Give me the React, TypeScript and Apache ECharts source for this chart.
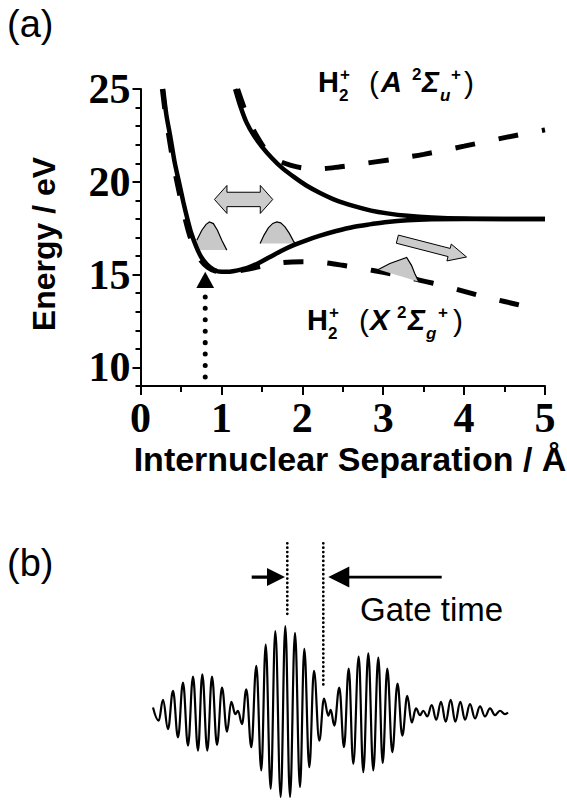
import React, { useEffect, useRef } from 'react';
import * as echarts from 'echarts';

// ---------- Panel (a): potential energy curves (R in Å, E in eV) ----------
const xTickValues = [0, 1, 2, 3, 4, 5];
const yMajorTicks = [10, 15, 20, 25];

const groundSolid: number[][] = [
  [0.28, 25], [0.32, 23.6], [0.37, 22.4], [0.42, 21.1], [0.47, 20.1], [0.53, 18.9], [0.58, 18.0],
  [0.63, 17.2], [0.69, 16.5], [0.75, 15.95], [0.82, 15.55], [0.9, 15.28], [1.0, 15.15], [1.1, 15.16],
  [1.2, 15.23], [1.32, 15.36], [1.45, 15.6], [1.6, 15.95], [1.75, 16.3], [1.9, 16.6], [2.05, 16.85],
  [2.22, 17.1], [2.42, 17.35], [2.63, 17.57], [2.85, 17.72], [3.05, 17.84], [3.3, 17.93], [3.6, 17.98],
  [4.0, 18.0], [4.5, 18.0], [5.0, 18.0],
];
const excitedSolid: number[][] = [
  [1.17, 25], [1.24, 24.0], [1.31, 23.2], [1.4, 22.5], [1.5, 21.9], [1.62, 21.3], [1.75, 20.75],
  [1.9, 20.25], [2.05, 19.8], [2.22, 19.4], [2.42, 19.0], [2.63, 18.7], [2.85, 18.45], [3.05, 18.3],
  [3.3, 18.17], [3.6, 18.08], [4.0, 18.02], [4.5, 18.0], [5.0, 18.0],
];
const upperDashed: number[][] = [
  [1.2, 25], [1.28, 24.0], [1.36, 23.1], [1.46, 22.3], [1.57, 21.6], [1.7, 21.15], [1.85, 20.9],
  [2.0, 20.75], [2.2, 20.7], [2.45, 20.8], [2.75, 20.98], [3.1, 21.2], [3.5, 21.48], [4.0, 21.92],
  [4.5, 22.38], [5.0, 22.8],
];
const lowerDashed: number[][] = [
  [0.27, 25], [0.31, 23.6], [0.36, 22.2], [0.41, 20.9], [0.46, 19.8], [0.52, 18.6], [0.57, 17.7],
  [0.62, 16.95], [0.68, 16.3], [0.75, 15.75], [0.83, 15.4], [0.92, 15.2], [1.02, 15.12], [1.15, 15.15],
  [1.3, 15.27], [1.5, 15.45], [1.75, 15.65], [2.0, 15.7], [2.25, 15.65], [2.5, 15.5], [2.75, 15.32],
  [3.0, 15.12], [3.25, 14.92], [3.5, 14.65], [3.75, 14.4], [4.0, 14.1], [4.25, 13.8], [4.5, 13.55],
  [4.8, 13.25],
];

// wave packets (outline points, R / E)
const packetLeft: number[][] = [
  [0.696, 16.32], [0.696, 16.85], [0.758, 17.39], [0.811, 17.71], [0.852, 17.84], [0.901, 17.75],
  [0.951, 17.39], [1.005, 16.85], [1.067, 16.32],
];
const packetMid: number[][] = [
  [1.478, 16.68], [1.527, 17.13], [1.58, 17.52], [1.635, 17.76], [1.684, 17.84], [1.733, 17.79],
  [1.786, 17.57], [1.84, 17.22], [1.889, 16.82], [1.91, 16.68],
];
const packetRight: number[][] = [
  [2.94, 15.28], [3.083, 15.6], [3.29, 15.92], [3.35, 15.5], [3.39, 15.06], [3.44, 14.61],
];

// arrows (start, end) in R / E
const doubleArrow: number[][] = [[0.914, 19.05], [1.635, 19.05]];
const tiltArrow: number[][] = [[3.175, 16.91], [4.03, 15.95]];
const ionTriangle: number[][] = [[0.8, 15.15], [0.69, 14.28], [0.91, 14.28]];
const ionDots: number[][] = [[0.8, 13.8], [0.8, 9.48]];

// ---------- Panel (b): laser field (time / amplitude, arb. units) ----------
const waveTime = [
  153, 158.7, 163, 168, 173, 178, 183, 188, 193, 198, 202.3, 207.3, 212, 217, 222, 227, 231.3, 235.3,
  238, 242, 246.3, 251.3, 256.3, 261.3, 265.7, 270.7, 275.3, 280.7, 285.3, 290, 295, 300, 304.3, 309.3,
  314, 319.3, 324, 328.3, 330.7, 334.3, 339.3, 344, 348.7, 353.3, 358.7, 363.3, 368.3, 373.3, 378.3,
  382.7, 387.3, 392.3, 397.5, 402.3, 407.3, 411.7, 416, 420, 423.3, 427.3, 431.7, 436.3, 441, 445.7,
  450.7, 455.3, 460.3, 465, 470, 475, 480, 485, 490, 495, 500, 505, 508,
];
const waveAmp = [
  5, -8.3, 12.7, -16.7, 21.7, -25, 30, -33.3, 36, -38.3, 38.3, -38.3, 36, -32.7, 25, -19.3, 10.7, -1.7,
  1.7, -11.7, 23.3, -35, 46.7, -58.3, 68.3, -76.7, 81.7, -85, 86.7, -85, 80, -75, 64, -55, 41.7, -28.3,
  14, -3.3, 2.7, -13.3, 25, -35, 44, -51.7, 56, -60, 59.3, -58.3, 55, -50.7, 44, -40, 29, -23.3, 16.7,
  -10, 4, -2.7, 1.7, -4, 7.3, -7.3, 10.7, -9.3, 12.7, -9.3, 10.7, -7.3, 8.3, -6, 6, -4, 4, -2.7, 1.7,
  -1.7, 0,
];
const gateLineA: number[][] = [[287.3, 170], [287.3, 98]];
const gateLineB: number[][] = [[323.3, 170], [323.3, 27]];
const gateArrowLeft: number[][] = [[251.7, 136], [285, 136]];
const gateArrowRight: number[][] = [[441.7, 136], [328.3, 136]];

// ---------- helpers ----------
function arrowPoly(p0: number[], p1: number[], shaftHalf: number, headHalf: number, headLen: number, dbl: boolean) {
  const dx = p1[0] - p0[0], dy = p1[1] - p0[1];
  const L = Math.hypot(dx, dy);
  const ux = dx / L, uy = dy / L, nx = -uy, ny = ux;
  const pt = (s: number, n: number) => [p0[0] + ux * s + nx * n, p0[1] + uy * s + ny * n];
  if (!dbl) {
    return [pt(0, shaftHalf), pt(L - headLen, shaftHalf), pt(L - headLen, headHalf), pt(L, 0),
      pt(L - headLen, -headHalf), pt(L - headLen, -shaftHalf), pt(0, -shaftHalf)];
  }
  return [pt(0, 0), pt(headLen, headHalf), pt(headLen, shaftHalf), pt(L - headLen, shaftHalf),
    pt(L - headLen, headHalf), pt(L, 0), pt(L - headLen, -headHalf), pt(L - headLen, -shaftHalf),
    pt(headLen, -shaftHalf), pt(headLen, -headHalf)];
}

function arrowSeries(ends: number[][], xi: number, yi: number, shaftHalf: number, headHalf: number,
  headLen: number, dbl: boolean, style: any, z: number) {
  return {
    type: 'custom', coordinateSystem: 'cartesian2d', xAxisIndex: xi, yAxisIndex: yi, z, silent: true,
    data: [ends[0]],
    renderItem: (_p: any, api: any) => ({
      type: 'polygon',
      shape: { points: arrowPoly(api.coord(ends[0]), api.coord(ends[1]), shaftHalf, headHalf, headLen, dbl) },
      style,
    }),
  };
}

function packetSeries(pts: number[][], outlineFrom: number) {
  return {
    type: 'custom', coordinateSystem: 'cartesian2d', xAxisIndex: 0, yAxisIndex: 0, z: 3, silent: true,
    data: [pts[0]],
    renderItem: (_p: any, api: any) => {
      const px = pts.map((p) => api.coord(p));
      return {
        type: 'group',
        children: [
          { type: 'polygon', shape: { points: px }, style: { fill: '#c8c8c8', stroke: 'none' } },
          { type: 'polyline', shape: { points: px.slice(outlineFrom) }, style: { fill: 'none', stroke: '#000', lineWidth: 1.2 } },
        ],
      };
    },
  };
}

function lineSeries(data: number[][], width: number, type: any, z: number, extra: any = {}) {
  return {
    type: 'line', xAxisIndex: 0, yAxisIndex: 0, data, showSymbol: false, symbol: 'none', smooth: 0.3,
    silent: true, z, lineStyle: { color: '#000', width, type, ...(extra.lineStyle || {}) },
    ...(extra.series || {}),
  };
}

const SANS = '"Liberation Sans", Arial, sans-serif';
const SERIF = '"Liberation Serif", "Times New Roman", serif';

function txt(text: string, x: number, y: number, font: string, align = 'left') {
  return { type: 'text', x, y, silent: true, style: { text, font, fill: '#000', align, verticalAlign: 'middle' } };
}

const MAIN = `bold 29px ${SANS}`;
const MAIN_I = `italic bold 29px ${SANS}`;
const SMALL = `bold 17px ${SANS}`;
const SMALL_I = `italic bold 17px ${SANS}`;
const PAREN = `30px ${SANS}`;

function stateLabel(x0: number, baseline: number, letter: string, sub: string, offs: number[]) {
  const yMain = baseline - 10, ySub = baseline + 3, ySup = baseline - 17.5;
  return [
    txt('H', x0 + offs[0], yMain, MAIN),
    txt('2', x0 + offs[1], ySub, SMALL),
    txt('+', x0 + offs[2], ySup, SMALL),
    txt('(', x0 + offs[3], yMain, PAREN),
    txt(letter, x0 + offs[4], yMain, MAIN_I),
    txt('2', x0 + offs[5], ySup, SMALL),
    txt('Σ', x0 + offs[6], yMain, MAIN_I),
    txt(sub, x0 + offs[7], ySub, SMALL_I),
    txt('+', x0 + offs[8], ySup, SMALL),
    txt(')', x0 + offs[9], yMain, PAREN),
  ];
}

const axisBlack = { color: '#000', width: 2 };
const dotted = { color: '#000', width: 2.8, type: [0.01, 4.4], cap: 'round' };

const option: any = {
  animation: false,
  backgroundColor: '#fff',
  grid: [
    { left: 140.5, top: 89, width: 404.5, height: 297 },
    { left: 153, top: 538.3, width: 355, height: 265 },
  ],
  xAxis: [
    {
      gridIndex: 0, type: 'value', min: 0, max: 5, interval: 1,
      axisLine: { show: true, onZero: false, lineStyle: axisBlack },
      axisTick: { show: true, length: 9, lineStyle: axisBlack, customValues: xTickValues },
      minorTick: { show: true, splitNumber: 2, length: 6, lineStyle: axisBlack },
      splitLine: { show: false }, minorSplitLine: { show: false },
      axisLabel: { color: '#000', fontFamily: SERIF, fontWeight: 'bold', fontSize: 42, margin: 11, customValues: xTickValues },
    },
    { gridIndex: 1, type: 'value', min: 153, max: 508, show: false },
  ],
  yAxis: [
    {
      gridIndex: 0, type: 'value', min: 9, max: 25, interval: 1, position: 'left',
      axisLine: { show: true, onZero: false, lineStyle: axisBlack },
      axisTick: { show: true, length: 5, lineStyle: axisBlack },
      axisLabel: { show: false }, splitLine: { show: false },
    },
    {
      gridIndex: 0, type: 'value', min: 9, max: 25, position: 'left', offset: 0,
      axisLine: { show: false },
      axisTick: { show: true, length: 8, lineStyle: axisBlack, customValues: yMajorTicks },
      axisLabel: { color: '#000', fontFamily: SERIF, fontWeight: 'bold', fontSize: 42, margin: 10, customValues: yMajorTicks },
      splitLine: { show: false },
    },
    { gridIndex: 1, type: 'value', min: -90, max: 175, show: false },
  ],
  series: [
    lineSeries(lowerDashed, 5, [20, 24], 2),
    lineSeries(upperDashed, 5, [20, 24], 2),
    packetSeries(packetLeft, 1),
    packetSeries(packetMid, 0),
    packetSeries(packetRight, 0),
    lineSeries(groundSolid, 4.5, 'solid', 4),
    lineSeries(excitedSolid, 4.5, 'solid', 4),
    arrowSeries(doubleArrow, 0, 0, 7.2, 14, 12.5, true, { fill: '#cccccc', stroke: '#000', lineWidth: 1 }, 5),
    arrowSeries(tiltArrow, 0, 0, 4.2, 8.7, 18, false, { fill: '#cccccc', stroke: '#000', lineWidth: 1 }, 5),
    {
      type: 'custom', coordinateSystem: 'cartesian2d', xAxisIndex: 0, yAxisIndex: 0, z: 6, silent: true,
      data: [ionTriangle[0]],
      renderItem: (_p: any, api: any) => ({
        type: 'polygon', shape: { points: ionTriangle.map((p) => api.coord(p)) }, style: { fill: '#000' },
      }),
    },
    lineSeries(ionDots, 5, [0.01, 11.42], 6, { lineStyle: { cap: 'round' }, series: { smooth: false } }),
    // panel (b)
    {
      type: 'line', xAxisIndex: 1, yAxisIndex: 2, data: waveTime.map((t, i) => [t, waveAmp[i]]),
      showSymbol: false, symbol: 'none', smooth: 0.4, smoothMonotone: 'x', silent: true,
      lineStyle: { color: '#000', width: 2.2 },
    },
    {
      type: 'line', xAxisIndex: 1, yAxisIndex: 2, data: gateLineA, showSymbol: false, symbol: 'none', silent: true,
      lineStyle: dotted,
    },
    {
      type: 'line', xAxisIndex: 1, yAxisIndex: 2, data: gateLineB, showSymbol: false, symbol: 'none', silent: true,
      lineStyle: dotted,
    },
    arrowSeries(gateArrowLeft, 1, 2, 1.6, 9, 18, false, { fill: '#000' }, 5),
    arrowSeries(gateArrowRight, 1, 2, 1.3, 10.5, 21, false, { fill: '#000' }, 5),
  ],
  graphic: [
    txt('(a)', 7, 24, `38px ${SANS}`),
    txt('(b)', 7, 563, `38px ${SANS}`),
    {
      type: 'text', x: 44, y: 244, rotation: Math.PI / 2, silent: true,
      style: { text: 'Energy / eV', font: `bold 32px ${SANS}`, fill: '#000', align: 'center', verticalAlign: 'middle' },
    },
    txt('Internuclear Separation / Å', 350, 459, `bold 34px ${SANS}`, 'center'),
    txt('Gate time', 360, 609, `33px ${SANS}`),
    ...stateLabel(318, 92, 'A', 'u', [0, 21, 22, 51, 63, 94, 104, 122, 133, 146]),
    ...stateLabel(307, 330, 'X', 'g', [0, 21, 22, 52, 63, 90, 101, 119, 131, 146]),
  ],
};

export default function App() {
  const ref = useRef<HTMLDivElement>(null);
  useEffect(() => {
    const chart = echarts.init(ref.current!, null, { renderer: 'svg' });
    chart.setOption(option);
    return () => chart.dispose();
  }, []);
  return (
    <div
      ref={ref}
      style={{ position: 'fixed', left: 0, top: 0, width: 567, height: 802, background: '#fff' }}
    />
  );
}
